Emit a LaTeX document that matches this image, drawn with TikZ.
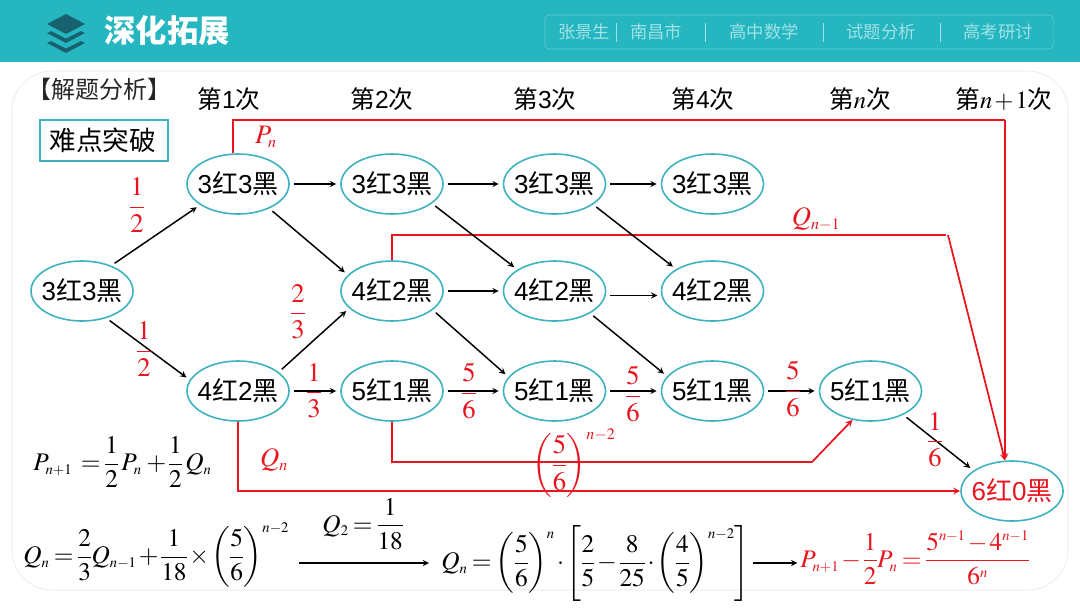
\documentclass[tikz,border=0pt]{standalone}
\usepackage[no-math]{fontspec}
\usepackage{amsmath}
\usepackage{mathptmx}
\usetikzlibrary{shapes.geometric}
\setmainfont{Liberation Sans}
\newfontfamily\cjk{Noto Sans CJK SC}
\DeclareMathSizes{19}{19}{11}{8}
\DeclareMathSizes{20}{20}{12}{9}
\definecolor{barteal}{RGB}{38,182,192}
\definecolor{ringteal}{RGB}{62,178,190}
\definecolor{logoteal}{RGB}{24,98,112}
\definecolor{tabtext}{RGB}{160,226,230}
\definecolor{markred}{RGB}{232,20,30}
\definecolor{panelgray}{RGB}{238,240,240}
\newcommand{\mix}[2]{#1{\cjk 红}#2{\cjk 黑}}
\newcommand{\gapfr}[2]{\dfrac{\rule[-2pt]{0pt}{2pt}#1}{\rule{0pt}{15pt}#2}}
\newcommand{\tight}{\thickmuskip=3mu\relax\medmuskip=1.5mu\relax\nulldelimiterspace=0.5pt\relax}
\begin{document}
\begin{tikzpicture}[x=0.75pt,y=-0.75pt,
  state/.style={draw=ringteal, ellipse, line width=1.2pt, minimum width=76.5pt, minimum height=45pt,
                inner sep=-3.5pt, font=\fontsize{19.5}{22}\selectfont},
  head/.style={inner sep=0pt, font=\fontsize{18.5}{22}\selectfont\tight},
  tab/.style={inner sep=0pt, text=tabtext, font=\cjk\fontsize{13}{15}\selectfont},
  tabline/.style={draw=tabtext, line width=0.4pt},
  rate/.style={inner sep=0pt, text=markred, font=\fontsize{20}{24}\selectfont\tight},
  calc/.style={inner sep=0pt, font=\fontsize{19}{22}\selectfont\tight},
  flow/.style={->, >=stealth, line width=1.1pt, shorten >=3pt, shorten <=3pt},
  redflow/.style={->, >=stealth, draw=markred, line width=1.3pt},
  ]
  \useasboundingbox (0,0) rectangle (1080,608);
  % ---- header --------------------------------------------------------------
  \fill[barteal] (0,0) rectangle (1080,62);
  \foreach \d in {0,10} {
    \fill[logoteal] (47,33+\d) -- (51,31+\d) -- (66,38.5+\d) -- (81,31+\d) -- (85,33+\d)
      -- (66,43+\d) -- cycle;
  }
  \fill[logoteal] (47,24) -- (66,14) -- (85,24) -- (66,34) -- cycle;
  \node[inner sep=0pt, text=white, font=\cjk\bfseries\fontsize{23.5}{26}\selectfont] (title) at (167,31) {深化拓展};
  \draw[barteal!70!white, line width=0.4pt, rounded corners=3pt] (545,15) rectangle (1053,49);
  \node[tab] (t1) at (584,32) {张景生};
  \node[tab] (t2) at (656,32) {南昌市};
  \node[tab] (t3) at (764,32) {高中数学};
  \node[tab] (t4) at (881,32) {试题分析};
  \node[tab] (t5) at (998,32) {高考研讨};
  \foreach \x in {616,705,823,940} { \draw[tabline] (\x,23) -- (\x,42); }
  \draw[panelgray, line width=0.8pt, rounded corners=30pt] (12,71) rectangle (1068,590);
  % ---- titles --------------------------------------------------------------
  \node[inner sep=0pt, text=black!85, font=\cjk\fontsize{18}{22}\selectfont] (sec) at (99,89) {【解题分析】};
  \node[draw=ringteal, line width=1.2pt, minimum width=96pt, minimum height=30.5pt, inner sep=0pt,
        font=\cjk\fontsize{20}{24}\selectfont] (hard) at (104,140.5) {\hspace{-2pt}难点突破};
  \node[head] (h1) at (229,99)  {{\cjk 第}1{\cjk 次}};
  \node[head] (h2) at (382,99)  {{\cjk 第}2{\cjk 次}};
  \node[head] (h3) at (545,99)  {{\cjk 第}3{\cjk 次}};
  \node[head] (h4) at (703,99)  {{\cjk 第}4{\cjk 次}};
  \node[head] (h5) at (860,99)  {{\cjk 第}$n${\cjk 次}};
  \node[head] (h6) at (1004,99) {{\cjk 第}$n+1${\cjk 次}};
  % ---- states --------------------------------------------------------------
  \node[state] (start) at (82,291) {\mix{3}{3}};
  \node[state] (a1) at (238,184)   {\mix{3}{3}};
  \node[state] (a2) at (392,184)   {\mix{3}{3}};
  \node[state] (a3) at (554.5,184) {\mix{3}{3}};
  \node[state] (a4) at (712.5,184) {\mix{3}{3}};
  \node[state] (b2) at (392,291)   {\mix{4}{2}};
  \node[state] (b3) at (554.5,291) {\mix{4}{2}};
  \node[state] (b4) at (712.5,291) {\mix{4}{2}};
  \node[state] (c1) at (238,391)   {\mix{4}{2}};
  \node[state] (c2) at (392,391)   {\mix{5}{1}};
  \node[state] (c3) at (554.5,391) {\mix{5}{1}};
  \node[state] (c4) at (712.5,391) {\mix{5}{1}};
  \node[state] (c5) at (870.5,391) {\mix{5}{1}};
  \node[state, text=markred] (fin) at (1012,491) {\mix{6}{0}};
  % ---- red routes ----------------------------------------------------------
  \coordinate (pturn) at (233,120);
  \coordinate (pedge) at (1005,120);
  \coordinate (qturn) at (392,235);
  \coordinate (qedge) at (946,235);
  \coordinate (qkink) at (948,235);
  \coordinate (wturn) at (392,462);
  \coordinate (wedge) at (812,462);
  \coordinate (nturn) at (238,491);
  \draw[redflow, -] (pturn |- a1.north) -- (pturn) -- (pedge);
  \draw[redflow] (pedge) -- (pedge |- fin.north);
  \draw[redflow, -] (b2.north) -- (qturn) -- (qedge);
  \draw[redflow] (qkink) -- (fin.103);
  \draw[redflow] (c2.south) -- (wturn) -- (wedge) -- (c5.-122);
  \draw[redflow] (c1.south) -- (nturn) -- (fin.west);
  % ---- black moves ---------------------------------------------------------
  \foreach \a/\b in {start.41/a1.209, start.-48/c1.167, a1.-38/b2.160, c1.25/b2.202,
                     a2.-26/b3.150, b2.-25/c3.163, a3.-28/b4.149, b3.-32/c4.162, c5.-36/fin.152} {
    \draw[flow] (\a) -- (\b);
  }
  \foreach \a/\b in {a1/a2, a2/a3, a3/a4, b2/b3, c1/c2, c2/c3, c3/c4, c4/c5} {
    \draw[flow] (\a.east) -- (\b.west);
  }
  \draw[flow] (b3.-5) -- (b4.185);
  % ---- rates ---------------------------------------------------------------
  \node[rate] (r1) at (137,205) {$\gapfr{1}{2}$};
  \node[rate] (r2) at (144,349) {$\gapfr{1}{2}$};
  \node[rate] (r3) at (298,312) {$\gapfr{2}{3}$};
  \node[rate] (r4) at (314,391) {$\gapfr{1}{3}$};
  \node[rate] (r5) at (469,391) {$\gapfr{5}{6}$};
  \node[rate] (r6) at (633,394) {$\gapfr{5}{6}$};
  \node[rate] (r7) at (793,389) {$\gapfr{5}{6}$};
  \node[rate] (r8) at (935,440) {$\gapfr{1}{6}$};
  \node[rate] (pn) at (266,137) {$P_n$};
  \node[rate] (qp) at (816,219) {$Q_{n-1}$};
  \node[rate] (qn) at (274,460) {$Q_n$};
  \node[rate] (wr) at (574,463) {$\left(\gapfr{5}{6}\right)^{n-2}$};
  % ---- recursions ----------------------------------------------------------
  \node[calc, anchor=west] (prec) at (33,462) {$P_{n+1}\;=\gapfr{1}{2}\,P_n\,+\gapfr{1}{2}\,Q_n$};
  \node[calc, anchor=west] (qrec) at (23,555) {$Q_n=\gapfr{2}{3}Q_{n-1}+\gapfr{1}{18}\times\left(\gapfr{5}{6}\right)^{n-2}$};
  \node[calc, anchor=west] (qsol) at (441,563) {$Q_n=\left(\gapfr{5}{6}\right)^{n}\cdot\left[\gapfr{2}{5}-\gapfr{8}{25}\cdot\left(\gapfr{4}{5}\right)^{n-2}\right]$};
  \node[calc, anchor=west, text=markred] (psol) at (800,558) {$P_{n+1}-\gapfr{1}{2}P_n=\dfrac{5^{n-1}-4^{n-1}}{6^n}$};
  \node[calc] (init) at (363,524) {$Q_2=\gapfr{1}{18}$};
  \coordinate (qstart) at (299,563);
  \draw[flow, shorten >=9pt, shorten <=0pt] (qstart) -- (qsol.west |- qstart);
  \draw[flow, shorten >=2pt, shorten <=2pt] (qsol.east) -- (psol.west |- qsol.east);
\end{tikzpicture}
\end{document}
